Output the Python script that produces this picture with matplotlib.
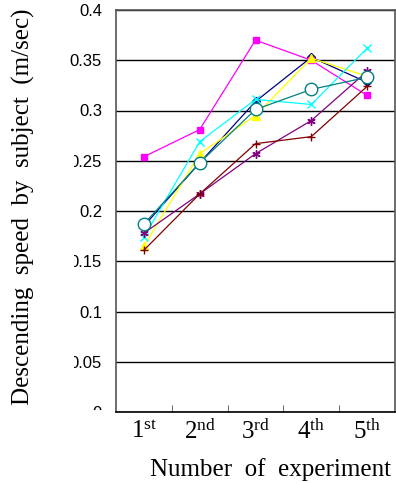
import matplotlib
matplotlib.use('Agg')
import matplotlib.pyplot as plt
from matplotlib.patches import Rectangle
import numpy as np

plt.rcParams['mathtext.fontset'] = 'custom'
plt.rcParams['mathtext.rm'] = 'Liberation Serif'
plt.rcParams['mathtext.it'] = 'Liberation Serif:italic'

experiments = ['$1^{\\rm st}$', '$2^{\\rm nd}$', '$3^{\\rm rd}$', '$4^{\\rm th}$', '$5^{\\rm th}$']
navy = [0.185, 0.248, 0.309, 0.353, 0.328]
magenta = [0.254, 0.281, 0.370, 0.350, 0.315]
yellow = [0.165, 0.257, 0.295, 0.352, 0.334]
cyan = [0.174, 0.269, 0.311, 0.306, 0.362]
purple = [0.178, 0.217, 0.257, 0.290, 0.339]
maroon = [0.161, 0.217, 0.267, 0.274, 0.324]
teal = [0.187, 0.248, 0.301, 0.321, 0.333]
yticks = [0, 0.05, 0.1, 0.15, 0.2, 0.25, 0.3, 0.35, 0.4]
yticklabels = ['0', '0.05', '0.1', '0.15', '0.2', '0.25', '0.3', '0.35', '0.4']

fig = plt.figure(figsize=(3.96, 4.83), dpi=100)
ax = fig.add_axes([116/396, 71/483, 279/396, 402/483])
x = np.arange(len(experiments))

lw = 0.9
ax.plot(x, navy, color='#000080', lw=lw, marker='D', ms=4.5, zorder=3)
ax.plot(x, magenta, color='#FF00FF', lw=lw, marker='s', ms=5, zorder=3)
ax.plot(x, yellow, color='#FFFF00', lw=lw, marker='^', ms=6, zorder=3)
ax.plot(x, cyan, color='#00FFFF', lw=lw, marker='x', ms=6, mew=1, zorder=3)
ax.plot(x, purple, color='#800080', lw=lw, marker=(6, 2, 0), ms=6, mew=1, zorder=3)
ax.plot(x, maroon, color='#800000', lw=lw, marker='+', ms=6, mew=1, zorder=3)
ax.plot(x, teal, color='#008080', lw=lw, marker='o', ms=9, mfc='white', mew=1, zorder=4)

ax.set_xlim(-0.5, 4.5)
ax.set_ylim(0, 0.4)
ax.set_yticks(yticks)
ax.set_yticklabels(yticklabels, fontfamily='Liberation Sans', fontsize=12)
ax.yaxis.grid(True, color='black', lw=1)
ax.set_axisbelow(True)
ax.tick_params(axis='y', length=0, pad=10)

ax.set_xticks(x)
ax.set_xticklabels(experiments, fontsize=18)
ax.set_xticks([0.5, 1.5, 2.5, 3.5], minor=True)
ax.tick_params(axis='x', which='major', length=0, pad=5)
ax.tick_params(axis='x', which='minor', direction='in', length=5, color='#555555')
for s in ax.spines.values():
    s.set_color('#555555')
    s.set_linewidth(1.2)
ax.spines['bottom'].set_color('black')

ax.set_xlabel('Number  of  experiment', fontfamily='Liberation Serif', fontsize=18)
ax.xaxis.set_label_coords(0.555, -0.115)

# white box hiding part of the tick labels, as in the original
fig.add_artist(Rectangle((0, 0), 74/396, (483-138)/483, transform=fig.transFigure,
                         facecolor='white', edgecolor='none', zorder=2.5))
fig.add_artist(Rectangle((0, 0), 110/396, (483-410)/483, transform=fig.transFigure,
                         facecolor='white', edgecolor='none', zorder=2.5))
fig.text(23/396, 1 - 207/483, 'Descending  speed  by  subject  (m/sec)', rotation=90,
         ha='center', va='center', fontfamily='Liberation Serif', fontsize=18, zorder=3)

fig.savefig('out.png', dpi=100)
